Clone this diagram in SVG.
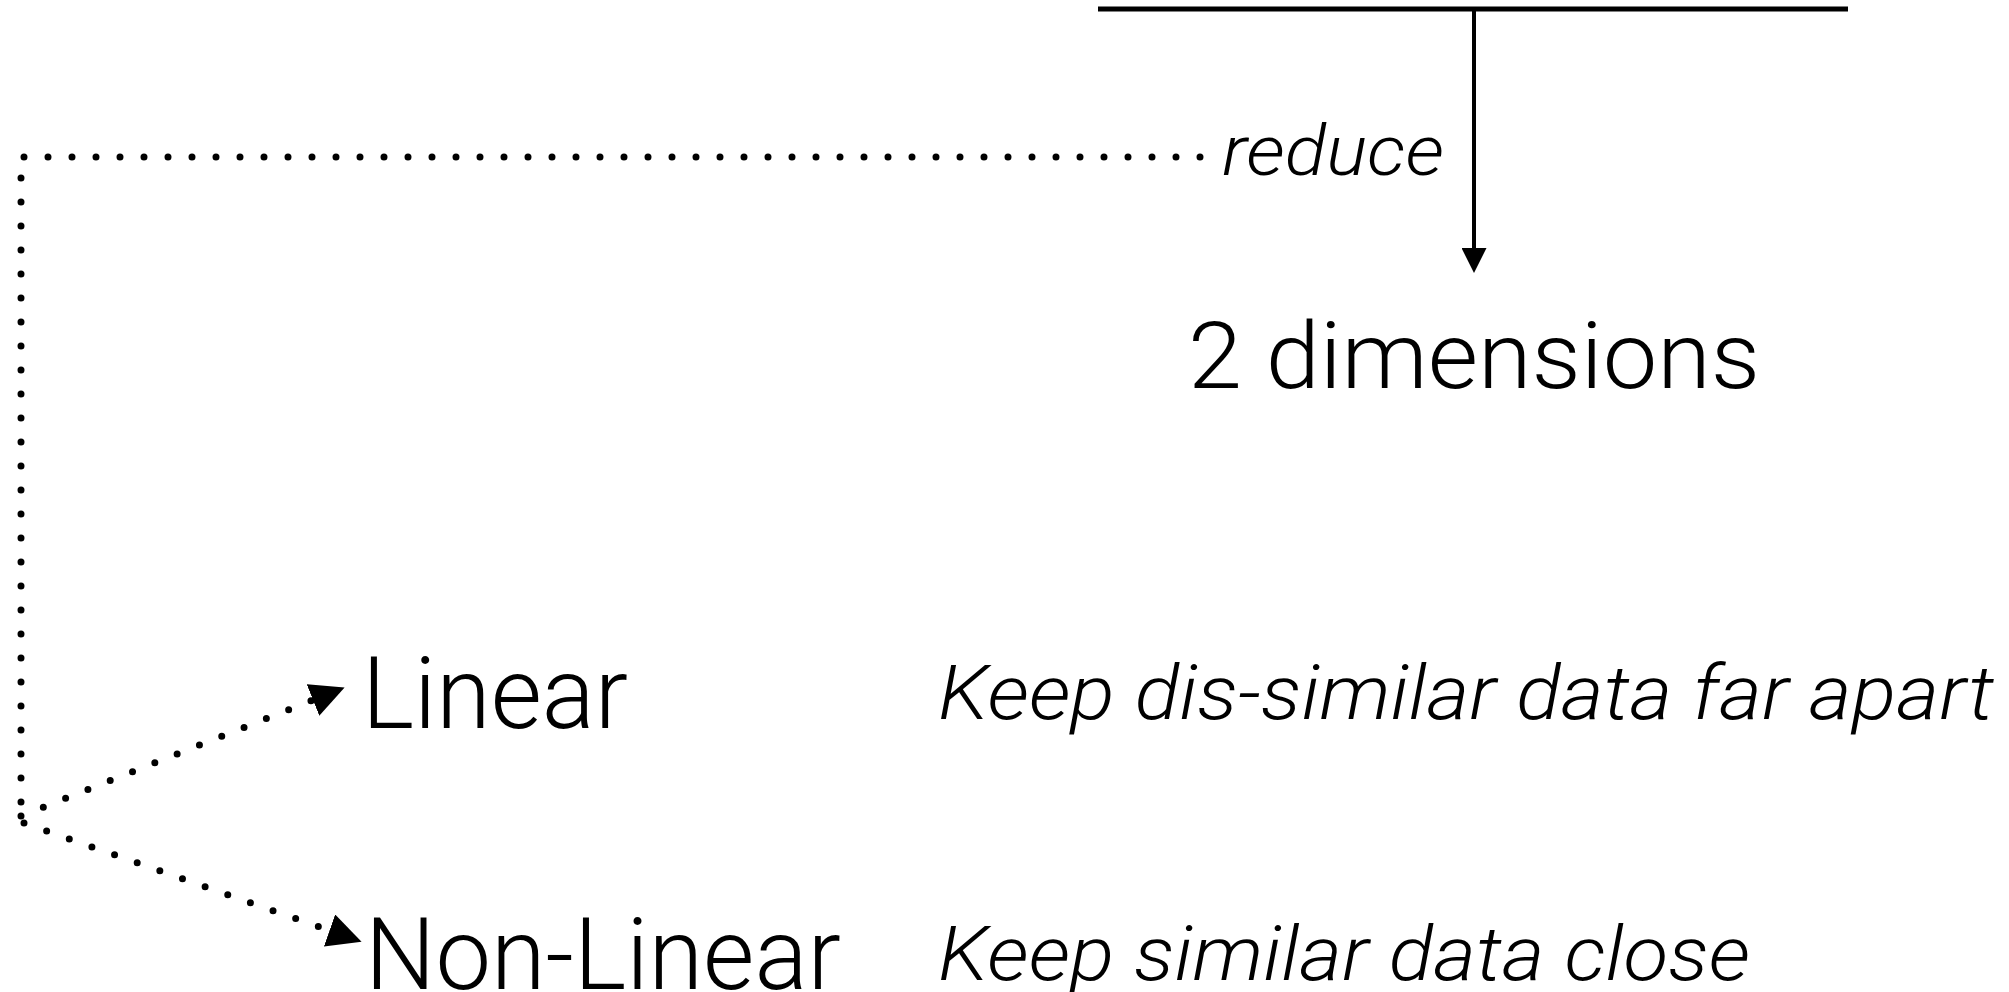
<svg xmlns="http://www.w3.org/2000/svg" width="2009" height="992" viewBox="0 0 2009 992">
<style>
  text { font-family: Roboto, "Liberation Sans", Arial, sans-serif; font-weight: 300; fill: #000; }
  .it { font-style: italic; }
  .solid { fill: none; stroke: #000; stroke-linecap: butt; }
  .dots { fill: none; stroke: #000; stroke-width: 7; stroke-linecap: round; stroke-dasharray: 0 24; }
</style>
<defs>
  <marker id="bigHead" markerUnits="userSpaceOnUse" markerWidth="34" markerHeight="34" viewBox="0 0 34 34" refX="0" refY="17" orient="auto">
    <path d="M0,0 L34,17 L0,34 z" fill="#000"/>
  </marker>
  <marker id="smallHead" markerUnits="userSpaceOnUse" markerWidth="25" markerHeight="25" viewBox="0 0 25 25" refX="0" refY="12.5" orient="auto">
    <path d="M0,0 L25,12.5 L0,25 z" fill="#000"/>
  </marker>
</defs>
<rect width="2009" height="992" fill="#fff"/>
<g id="connectors">
  <path class="solid" d="M1098,9 H1848" stroke-width="5"/>
  <path class="solid" d="M1474,9 V248" stroke-width="4" marker-end="url(#smallHead)"/>
  <path class="dots" d="M1200,157 H21 V816"/>
  <path class="dots" d="M21,816 L313,700" marker-end="url(#bigHead)"/>
  <path class="dots" d="M24,823 L329.5,930.5" marker-end="url(#bigHead)"/>
</g>
<g id="reduce-label">
  <text class="it" x="1222" y="175" font-size="70" textLength="222" lengthAdjust="spacingAndGlyphs">reduce</text>
</g>
<g id="node-2d">
  <text x="1188" y="388" font-size="92" textLength="572" lengthAdjust="spacingAndGlyphs">2 dimensions</text>
</g>
<g id="node-linear">
  <text x="362" y="728" font-size="100" textLength="266" lengthAdjust="spacingAndGlyphs">Linear</text>
</g>
<g id="node-nonlinear">
  <text x="365" y="989" font-size="100" textLength="476" lengthAdjust="spacingAndGlyphs">Non-Linear</text>
</g>
<g id="desc-linear">
  <text class="it" x="938" y="719" font-size="75" textLength="1056" lengthAdjust="spacingAndGlyphs">Keep dis-similar data far apart</text>
</g>
<g id="desc-nonlinear">
  <text class="it" x="938" y="980" font-size="75" textLength="812" lengthAdjust="spacingAndGlyphs">Keep similar data close</text>
</g>
</svg>
